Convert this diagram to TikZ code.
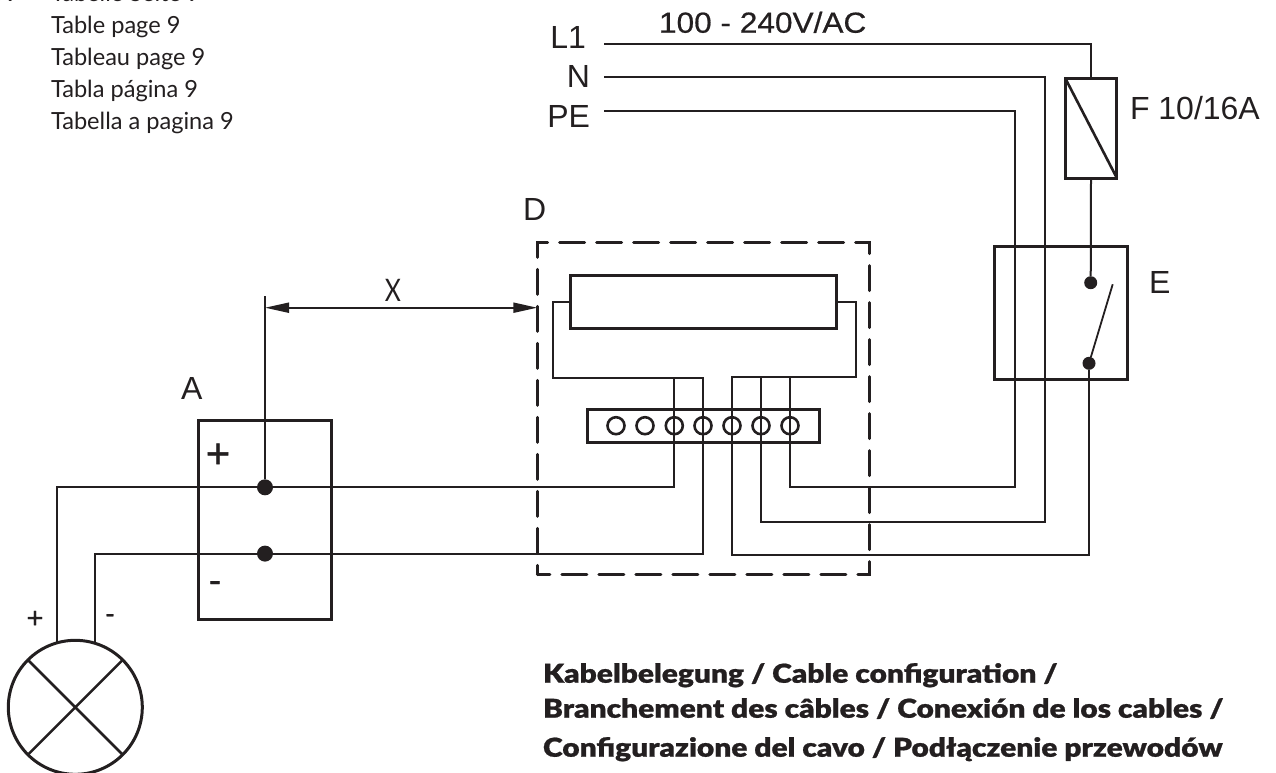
\documentclass[tikz,border=0pt]{standalone}
\usepackage{fontspec}
\usetikzlibrary{arrows.meta}
\setmainfont{Lato}
\newfontfamily\helv{Liberation Sans}
\newfontfamily\helvb[FakeStretch=1.09,FakeBold=0.6]{Liberation Sans}
\newfontfamily\pmf[FakeBold=1]{Liberation Sans}
\newfontfamily\plainf{Lato}
\newfontfamily\headf[FakeStretch=1.15,FakeBold=0.8]{Lato Black}
\definecolor{ink}{HTML}{231F20}
\tikzset{
  every node/.style={inner sep=0pt,outer sep=0pt,text=ink},
  heavy/.style={draw=ink,line width=3pt},
  wire/.style={draw=ink,line width=2pt,line join=miter},
  boxx/.style={rectangle,heavy},
  hole/.style={circle,draw=ink,line width=2.6pt,minimum size=17pt},
  dot/.style={circle,fill=ink,minimum size=#1},
  lbl/.style={font=\helv\fontsize{32}{32}\selectfont,anchor=base west},
  note/.style={font=\plainf\fontsize{23.6}{23.6}\selectfont,anchor=base west},
  head/.style={font=\headf\fontsize{26}{26}\selectfont,anchor=base west},
  pm/.style={font=\pmf\fontsize{#1}{#1}\selectfont,anchor=center},
  dimtip/.tip={Triangle[length=24pt,width=10pt]},
}
\begin{document}
\begin{tikzpicture}[x=1pt,y=-1pt]
\useasboundingbox (0,0) rectangle (1276,772);
% notes
\node[note] (n0x) at (-3,1.7) {X};
\node[note] (n0) at (51,1.7) {Tabelle Seite 9};
\node[note] (n1) at (51,33.5) {Table page 9};
\node[note] (n2) at (51,65.5) {Tableau page 9};
\node[note] (n3) at (51,97.5) {Tabla página 9};
\node[note] (n4) at (51,129.5) {Tabella a pagina 9};
% boxes
\node[boxx,minimum width=133.4pt,minimum height=199pt] (A) at (265,520.2) {};
\node[rectangle,draw=ink,line width=3pt,line cap=round,dash pattern=on 25pt off 12pt,dash phase=12.5pt,minimum width=332.4pt,minimum height=332pt] (D) at (703.5,408.7) {};
\node[boxx,minimum width=266pt,minimum height=53pt] (disp) at (703.3,302.2) {};
\node[boxx,minimum width=232.7pt,minimum height=33pt] (strip) at (703.6,425.5) {};
\node[boxx,minimum width=133.3pt,minimum height=133.3pt] (E) at (1061.3,313.3) {};
\node[boxx,minimum width=51.7pt,minimum height=100pt] (F) at (1091,128) {};
\node[circle,draw=ink,line width=3pt,minimum size=134pt] (lamp) at (75.3,707.3) {};
\draw[heavy,line width=2.6pt] (lamp.45) -- (lamp.225) (lamp.135) -- (lamp.315);
\draw[heavy,line width=2.6pt] (F.north west) -- (F.south east);
% terminals
\foreach \n/\x in {1/616,2/645,3/674.3,4/703,5/732,6/761,7/790}
  \node[hole] (t\n) at (\x,425.7) {};
% dots
\node[dot=16pt] (dp) at (265,487.3) {};
\node[dot=16pt] (dm) at (265,553.6) {};
\node[dot=13pt] (s1) at (1090.7,282.7) {};
\node[dot=13pt] (s2) at (1089,363.3) {};
% coordinates
\coordinate (L1s) at (604.3,44.3);
\coordinate (Ns) at (604.3,77);
\coordinate (PEs) at (604.3,111);
\coordinate (dimtop) at (265,296);
\coordinate (diml) at (265,307.7);
\coordinate (dimr) at (537.3,307.7);
\coordinate (swt) at (1112.7,284.3);
\coordinate (railL) at (552.7,377.7);
\coordinate (railR) at (855.7,377);
\coordinate (bE) at (1089,555.3);
\coordinate (bN) at (1044.7,522.3);
\coordinate (bPE) at (1014.7,487);
% wires
\draw[wire] (L1s) -| (F.north);
\draw[wire] (F.south) -- (s1);
\draw[wire,line width=1.8pt] (swt) -- (s2);
\draw[wire] (disp.west) -| (railL) -| (t4.center) |- (dm.center) -| (lamp.73.3);
\draw[wire] (t3.center |- railL) -- (t3.center) |- (dp.center) -| (lamp.106.7);
\draw[wire] (disp.east) -| (railR) -| (t5.center) |- (bE) -- (s2);
\draw[wire] (t6.center |- railR) -- (t6.center) |- (bN) |- (Ns);
\draw[wire] (t7.center |- railR) -- (t7.center) |- (bPE) |- (PEs);
\draw[wire] (dimtop) -- (dp);
\draw[wire,{dimtip}-{dimtip}] (diml) -- (dimr);
% labels
\node[lbl,anchor=base east] (lL1) at (586,48.3) {L1};
\node[lbl,anchor=base east] (lN) at (590,87.7) {N};
\node[lbl,anchor=base east] (lPE) at (590,127.7) {PE};
\node[font=\helvb\fontsize{29}{29}\selectfont,anchor=base west] (lV) at (659,32.7) {100 - 240V/AC};
\node[lbl] (lF) at (1130,119) {F 10/16A};
\node[lbl] (lE) at (1149,293) {E};
\node[lbl] (lD) at (523,220.7) {D};
\node[lbl] (lA) at (181,399) {A};
\node[font=\plainf\fontsize{31}{31}\selectfont,xscale=.8,anchor=base] (lX) at (393,301.7) {X};
\node[pm=42] (ap) at (218,455.7) {+};
\node[pm=36] (am) at (215,586.7) {-};
\node[pm=29] (op) at (35,619.3) {+};
\node[pm=27] (om) at (110,618.3) {-};
% title
\node[head] (h1) at (543,682.7) {Kabelbelegung / Cable configuration /};
\node[head] (h2) at (543,717.7) {Branchement des câbles / Conexión de los cables /};
\node[head] (h3) at (543,756.7) {Configurazione del cavo / Podłączenie przewodów};
\end{tikzpicture}
\end{document}
